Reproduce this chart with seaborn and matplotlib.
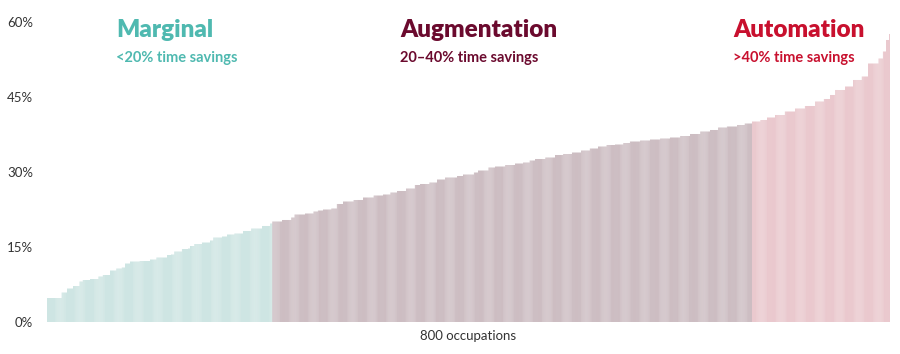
import numpy as np
import pandas as pd
import seaborn as sns
import matplotlib.pyplot as plt

# plateaus: share of time saved (%) and number of occupations at that level
levels = [4.8, 5.9, 6.7, 7.2, 8.1, 8.4, 8.6, 9.1, 9.4, 10.3, 10.7, 10.9, 11.7, 12.1, 12.2,
          12.5, 12.9, 13.4, 13.5, 14.1, 14.6, 14.7, 15.2, 15.6, 15.9, 16.3, 16.9, 17.1, 17.5,
          17.7, 18.2, 18.7, 19.2, 19.7,
          20.1, 20.4, 20.9, 21.5, 21.7, 22.1, 22.3, 22.5, 22.7, 23.6, 24.1, 24.4, 24.9, 25.3,
          25.5, 25.9, 26.2, 26.7, 27.4, 27.6, 27.9, 28.5, 28.9, 29.2, 29.5, 29.9, 30.3, 30.9,
          31.1, 31.4, 31.7, 31.9, 32.3, 32.6, 32.9, 33.4, 33.6, 33.9, 34.3, 34.7, 35.1, 35.4,
          35.5, 35.8, 36.1, 36.3, 36.5, 36.7, 36.9, 37.2, 37.6, 38.1, 38.4, 38.9, 39.1, 39.4,
          39.7,
          40.1, 40.4, 40.9, 41.4, 42.1, 42.7, 43.2, 44.1, 44.6, 45.4, 46.4, 47.1, 48.4, 49.1,
          51.7, 52.7, 54.1, 56.4, 57.6]
counts = [14, 5, 6, 6, 3, 7, 8, 4, 7, 6, 5, 3, 5, 9, 10,
          6, 10, 4, 3, 7, 6, 2, 4, 7, 8, 3, 8, 5, 7,
          8, 8, 10, 8, 2,
          9, 9, 3, 10, 8, 4, 5, 8, 5, 6, 10, 9, 10, 9,
          7, 6, 9, 8, 5, 9, 7, 8, 11, 6, 10, 4, 10, 6,
          10, 9, 8, 6, 5, 10, 9, 8, 8, 9, 8, 8, 8, 8,
          8, 6, 10, 9, 10, 9, 10, 9, 10, 9, 8, 8, 10, 7,
          7,
          8, 6, 8, 9, 10, 9, 10, 8, 6, 5, 9, 8, 8, 6,
          10, 4, 3, 3, 1]

groups = ["Marginal", "Augmentation", "Automation"]
subtitles = ["<20% time savings", "20\u201340% time savings", ">40% time savings"]
colors = {"Marginal": "#4fb9b0", "Augmentation": "#6b0a2e", "Automation": "#c8102e"}
bar_colors = {"Marginal": "#8fd0ca", "Augmentation": "#9a6d7c", "Automation": "#de7f8e"}

values = np.repeat(levels, counts)
df = pd.DataFrame({"idx": np.arange(len(values)), "value": values})
df["group"] = np.where(df.value < 20, "Marginal", np.where(df.value < 40, "Augmentation", "Automation"))

fig = plt.figure(figsize=(9, 3.54), dpi=100)
ax = fig.add_axes([0.052, 0.0904, 0.937, 0.8475])

sns.barplot(data=df, x="idx", y="value", hue="group", palette=bar_colors, hue_order=groups,
            dodge=False, width=0.55, alpha=0.8, linewidth=0, legend=False, native_scale=True, ax=ax)
# thin bars: no pixel snapping so the sub-pixel widths give the striped look
for p in ax.patches:
    p.set_snap(False)

ax.set_xlim(-0.5, len(values) - 0.5)
ax.set_ylim(0, 60)
ax.set_yticks([0, 15, 30, 45, 60])
ax.set_yticklabels(["0%", "15%", "30%", "45%", "60%"], fontsize=9.5, color="#333333", family="Lato")
ax.set_xticks([])
ax.tick_params(axis="y", length=0, pad=10)
ax.set_ylabel("")
ax.set_xlabel("800 occupations", fontsize=9.5, color="#333333", family="Lato", labelpad=6)
sns.despine(ax=ax, left=True, bottom=True)

xs = [116, 400, 733]
for g, sub, x in zip(groups, subtitles, xs):
    fig.text(x / 900, 1 - 30 / 354, g, ha="left", va="center", fontsize=17.5, fontweight="heavy",
             color=colors[g], family="Lato")
    fig.text(x / 900, 1 - 58 / 354, sub, ha="left", va="center", fontsize=10.5, fontweight="bold",
             color=colors[g], family="Lato")

plt.savefig("out.png", dpi=100)
